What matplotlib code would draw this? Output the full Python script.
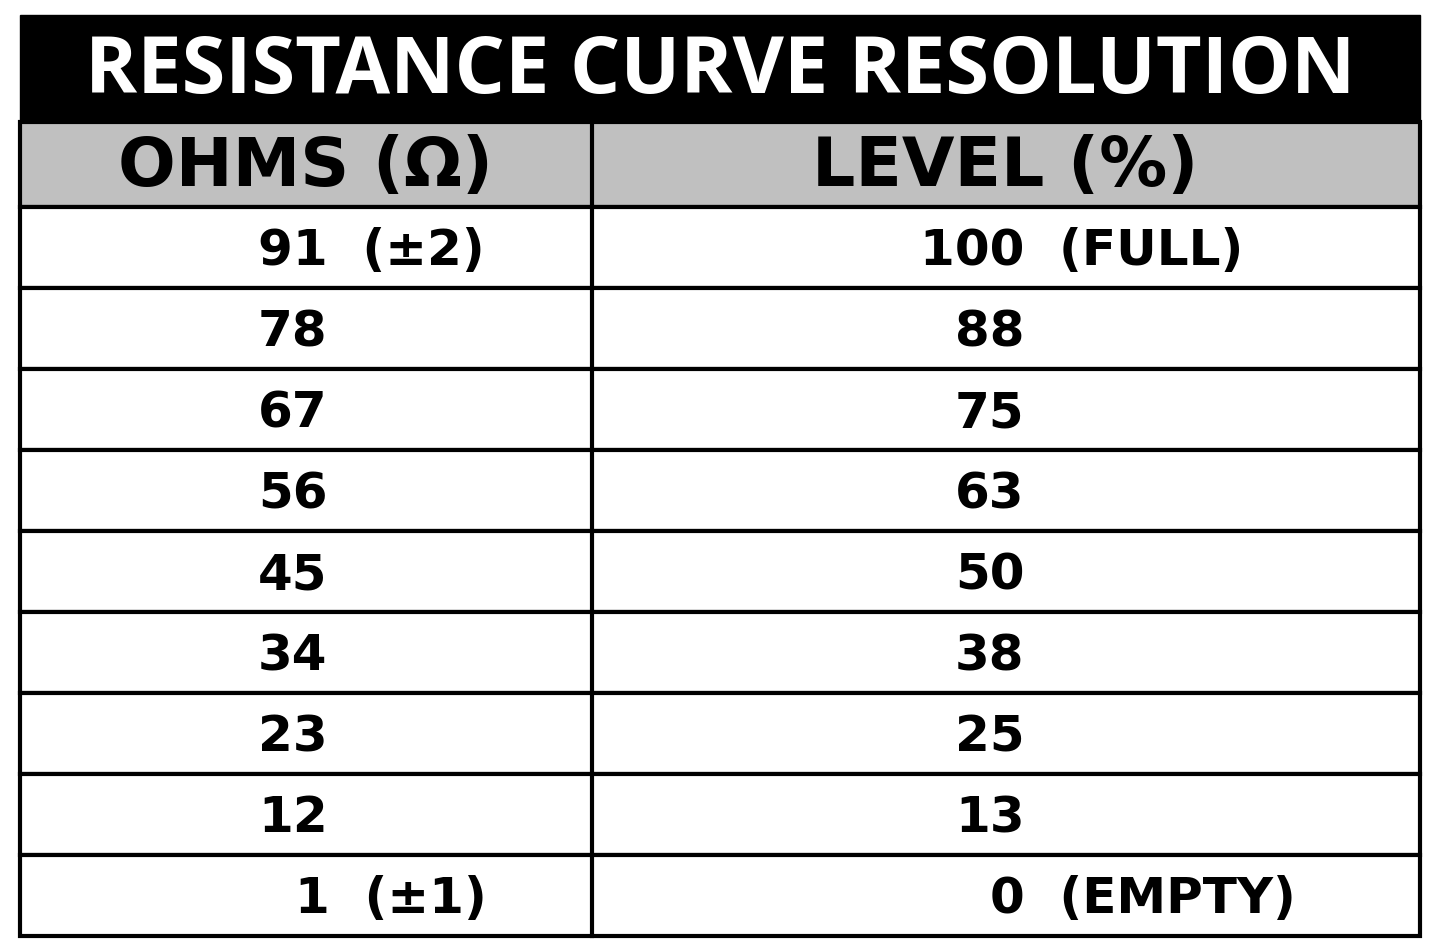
import matplotlib
matplotlib.use("Agg")
import matplotlib.pyplot as plt
from matplotlib.patches import Rectangle

title = "RESISTANCE CURVE RESOLUTION"
headers = ["OHMS (Ω)", "LEVEL (%)"]
ohms = ["91  (±2)", "78", "67", "56", "45", "34", "23", "12", "1  (±1)"]
levels = ["100  (FULL)", "88", "75", "63", "50", "38", "25", "13", "0  (EMPTY)"]

# left edge of each text, in pixels
ohms_x = [258, 258, 258, 258, 258, 258, 258, 258, 295]
levels_x = [920, 955, 955, 955, 955, 955, 955, 955, 990]

fig = plt.figure(figsize=(14.4, 9.44), dpi=100)
ax = fig.add_axes([0, 0, 1, 1])
ax.set_xlim(0, 1440)
ax.set_ylim(944, 0)
ax.axis("off")

left, right, mid = 20, 1420, 592
top, title_bot, head_bot = 15, 122, 207
row_h = 81

ax.add_patch(Rectangle((left, top), right - left, title_bot - top, color="black"))
ax.text(720, (top + title_bot) / 2 + 4, title, color="white",
        fontsize=57, fontweight="bold", family="Open Sans", stretch="condensed",
        ha="center", va="center")

ax.add_patch(Rectangle((left, title_bot), right - left, head_bot - title_bot,
                       facecolor="#c0c0c0", edgecolor="black", lw=3))
for h, cx in zip(headers, [305, 1005]):
    ax.text(cx, (title_bot + head_bot) / 2 + 2, h, fontsize=49, fontweight="heavy",
            family="DejaVu Sans", ha="center", va="center")

for i, (o, l) in enumerate(zip(ohms, levels)):
    y0 = head_bot + i * row_h
    ax.add_patch(Rectangle((left, y0), right - left, row_h, facecolor="white",
                           edgecolor="black", lw=3))
    yc = y0 + row_h / 2 + 4
    ax.text(ohms_x[i], yc, o, fontsize=36, fontweight="bold", family="DejaVu Sans",
            ha="left", va="center")
    ax.text(levels_x[i], yc, l, fontsize=36, fontweight="bold", family="DejaVu Sans",
            ha="left", va="center")

ax.plot([mid, mid], [title_bot, head_bot + 9 * row_h], color="black", lw=3)

fig.savefig("out.png", dpi=100)
